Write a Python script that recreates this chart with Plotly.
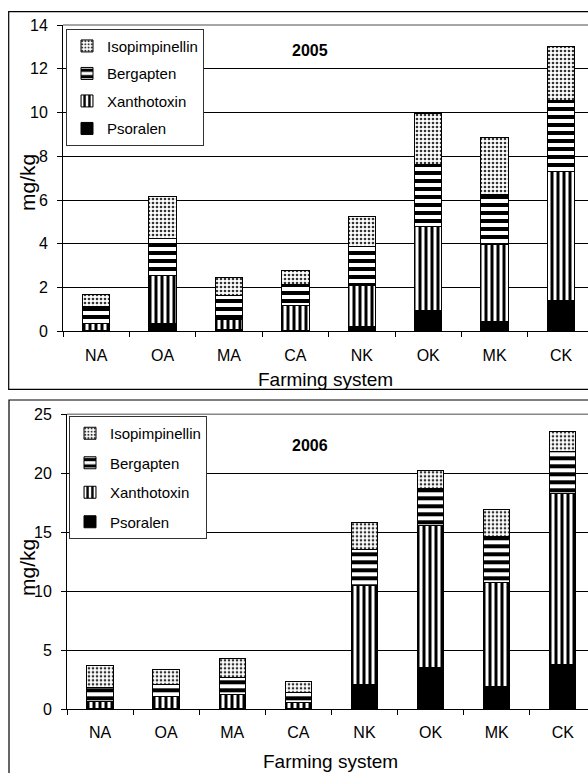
import plotly.graph_objects as go

categories = ["NA", "OA", "MA", "CA", "NK", "OK", "MK", "CK"]
series_names = ["Psoralen", "Xanthotoxin", "Bergapten", "Isopimpinellin"]

# 2005 values (mg/kg)
psoralen_2005 = [0.05, 0.35, 0.08, 0.03, 0.24, 0.94, 0.47, 1.39]
xanthotoxin_2005 = [0.32, 2.20, 0.47, 1.13, 1.86, 3.85, 3.48, 5.91]
bergapten_2005 = [0.75, 1.70, 1.10, 1.00, 1.77, 2.83, 2.32, 3.27]
isopimpinellin_2005 = [0.58, 1.90, 0.83, 0.63, 1.36, 2.32, 2.57, 2.47]

# 2006 values (mg/kg)
psoralen_2006 = [0.05, 0.05, 0.05, 0.05, 2.12, 3.51, 1.95, 3.79]
xanthotoxin_2006 = [0.57, 0.97, 1.14, 0.52, 8.34, 12.07, 8.82, 14.53]
bergapten_2006 = [1.19, 1.07, 1.47, 0.84, 3.05, 3.14, 3.85, 3.53]
isopimpinellin_2006 = [1.87, 1.25, 1.64, 0.96, 2.29, 1.52, 2.32, 1.67]

y_ticks_2005 = [0, 2, 4, 6, 8, 10, 12, 14]
y_ticks_2006 = [0, 5, 10, 15, 20, 25]

W, H = 588, 773
FONT = "Liberation Sans, Arial, sans-serif"

def px_x(p):
    return p / W

def px_y(p):
    return 1 - p / H

styles = {
    "Psoralen": dict(color="black"),
    "Xanthotoxin": dict(color="white", pattern=dict(shape="|", fgcolor="black", bgcolor="white", size=6, solidity=0.5)),
    "Bergapten": dict(color="white", pattern=dict(shape="-", fgcolor="black", bgcolor="white", size=8, solidity=0.5)),
    "Isopimpinellin": dict(color="white", pattern=dict(shape=".", fgcolor="#333333", bgcolor="white", size=4, solidity=0.35)),
}
ranks = {"Isopimpinellin": 1, "Bergapten": 2, "Xanthotoxin": 3, "Psoralen": 4}

fig = go.Figure()

data_2005 = [psoralen_2005, xanthotoxin_2005, bergapten_2005, isopimpinellin_2005]
data_2006 = [psoralen_2006, xanthotoxin_2006, bergapten_2006, isopimpinellin_2006]

for name, vals in zip(series_names, data_2005):
    fig.add_trace(go.Bar(
        x=categories, y=vals, name=name, xaxis="x", yaxis="y", legend="legend",
        legendgroup=name + "1", legendrank=ranks[name], width=0.41,
        marker=dict(line=dict(color="black", width=1), **styles[name]),
    ))
for name, vals in zip(series_names, data_2006):
    fig.add_trace(go.Bar(
        x=categories, y=vals, name=name, xaxis="x2", yaxis="y2", legend="legend2",
        legendgroup=name + "2", legendrank=ranks[name], width=0.40,
        marker=dict(line=dict(color="black", width=1), **styles[name]),
    ))

axis_font = dict(family=FONT, size=16, color="black")

x1_left, y1_top, y1_bot = 63, 25, 331.3
x2_left, y2_top, y2_bot = 67, 414.3, 709
cat_w1, cat_w2 = 66.4, 66.1

common_x = dict(type="category", showline=True, linecolor="black", linewidth=1,
                ticks="outside", ticklen=5, tickwidth=1, tickcolor="black", tickson="boundaries",
                tickfont=axis_font, showgrid=False, ticklabelstandoff=9, automargin=False)
common_y = dict(showline=True, linecolor="black", linewidth=1,
                ticks="outside", ticklen=5, tickwidth=1, tickcolor="black",
                tickfont=axis_font, showgrid=True, gridcolor="black", gridwidth=1,
                zeroline=False, ticklabelstandoff=6, automargin=False)

fig.update_layout(
    template="none",
    width=W, height=H, autosize=False,
    margin=dict(l=0, r=0, t=0, b=0, pad=0),
    paper_bgcolor="white", plot_bgcolor="white",
    barmode="stack",
    font=dict(family=FONT, color="black"),
    xaxis=dict(domain=[px_x(x1_left), 1.0], anchor="y",
               range=[-0.5, -0.5 + (W - x1_left) / cat_w1], **common_x),
    yaxis=dict(domain=[px_y(y1_bot), px_y(y1_top)], anchor="x",
               range=[0, 14], tickvals=y_ticks_2005, **common_y),
    xaxis2=dict(domain=[px_x(x2_left), 1.0], anchor="y2",
                range=[-0.5, -0.5 + (W - x2_left) / cat_w2], **common_x),
    yaxis2=dict(domain=[px_y(y2_bot), px_y(y2_top)], anchor="x2",
                range=[0, 25], tickvals=y_ticks_2006, **common_y),
    legend=dict(
        x=px_x(66), y=px_y(28.7), xanchor="left", yanchor="top",
        bgcolor="white", bordercolor="#333333", borderwidth=1,
        font=dict(family=FONT, size=15, color="black"),
        traceorder="grouped", tracegroupgap=5, entrywidth=107,
    ),
    legend2=dict(
        x=px_x(69), y=px_y(416), xanchor="left", yanchor="top",
        bgcolor="white", bordercolor="#333333", borderwidth=1,
        font=dict(family=FONT, size=15, color="black"),
        traceorder="grouped", tracegroupgap=7, entrywidth=93,
    ),
    showlegend=True,
)

shapes = [
    dict(type="rect", xref="paper", yref="paper", x0=px_x(8.7), x1=1.05, y0=px_y(389.3), y1=px_y(11.7),
         line=dict(color="black", width=1.2), fillcolor="rgba(0,0,0,0)", layer="below"),
    dict(type="rect", xref="paper", yref="paper", x0=px_x(9), x1=1.05, y0=-0.05, y1=px_y(400),
         line=dict(color="black", width=1.2), fillcolor="rgba(0,0,0,0)", layer="below"),
    dict(type="line", xref="paper", yref="paper", x0=px_x(x1_left), x1=1.0, y0=px_y(y1_top), y1=px_y(y1_top),
         line=dict(color="#888888", width=1.5)),
    dict(type="line", xref="paper", yref="paper", x0=px_x(x2_left), x1=1.0, y0=px_y(y2_top), y1=px_y(y2_top),
         line=dict(color="#888888", width=1.5)),
]

def ann(text, x, y, size, angle=0):
    return dict(text=text, x=px_x(x), y=px_y(y), xref="paper", yref="paper", showarrow=False,
                xanchor="center", yanchor="middle", textangle=angle,
                font=dict(family=FONT, size=size, color="black"))

annotations = [
    ann("<b>2005</b>", 310, 51, 16),
    ann("<b>2006</b>", 310, 445, 16),
    ann("mg/kg", 27, 183, 21, -90),
    ann("mg/kg", 27, 568, 21, -90),
    ann("Farming system", 326, 379, 19),
    ann("Farming system", 330, 761, 19),
]

fig.update_layout(shapes=shapes, annotations=annotations)

post = (
    "document.documentElement.style.margin='0';"
    "document.body.style.margin='0';"
    "document.body.style.overflow='hidden';"
    "document.documentElement.style.overflow='hidden';"
    "var d=document.getElementById('{plot_id}');"
    "d.style.position='fixed';d.style.top='0px';d.style.left='0px';"
)

fig.write_html("out.html", config={"displayModeBar": False}, post_script=post)
